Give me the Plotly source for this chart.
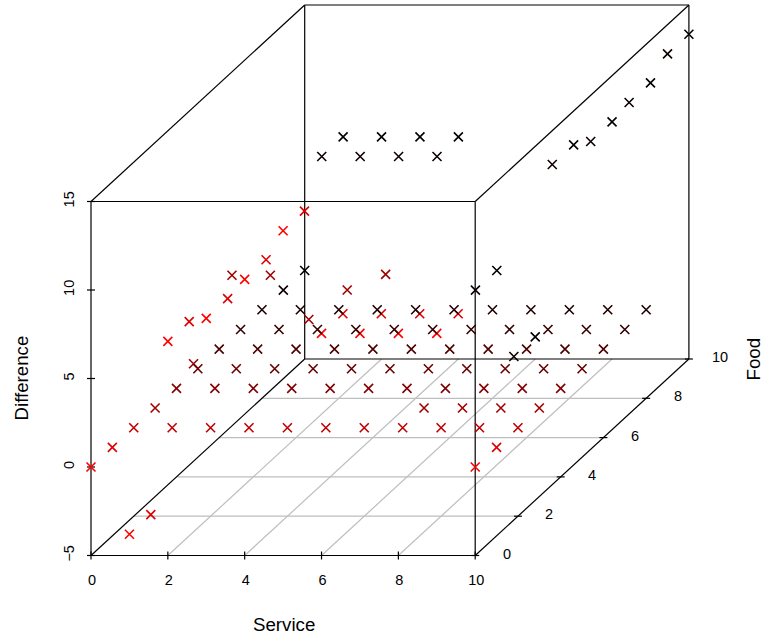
import plotly.graph_objects as go

service_values = [0, 1, 2, 3, 4, 5, 6, 7, 8, 9, 10]
food_values = [0, 1, 2, 3, 4, 5, 6, 7, 8, 9, 10]
diff_food_0 = [0, -3.8, 7.1, 8.4, 10.6, 13.35, 7.55, 7.55, 7.55, 7.55, 0]
diff_food_1 = [0, -3.8, 7.1, 8.4, 10.6, 13.35, 7.55, 7.55, 7.55, 7.55, 0]
diff_food_2 = [0, 0, 0, 0, 0, 0, 0, 0, 0, 0, 0]
diff_food_3 = [0, 2.5, 7.5, 7.5, 5, 6.67, 7.55, 0, 0, 0, 0]
diff_food_4 = [0, 0, 0, 0, 0, 0, 0, 0, 0, 0, 0]
diff_food_5 = [0, 0, 0, 0, 0, 0, 0, 0, 0, 0, 0]
diff_food_6 = [0, 0, 0, 0, 0, 0, 0, 0, 0, 0, 0]
diff_food_7 = [0, 0, 0, 0, 0, 0, 0, 0, 0, 0, 0]
diff_food_8 = [0, 0, 0, 0, 0, 0, 0, 0, 0, 0, 0]
diff_food_9 = [0, 7.55, 7.55, 7.55, 7.55, 0, -3.75, 7.1, 8.4, 10.6, 13.35]
diff_food_10 = [0, 7.55, 7.55, 7.55, 7.55, 0, -3.75, 7.1, 8.4, 10.6, 13.35]
diff_rows = [diff_food_0, diff_food_1, diff_food_2, diff_food_3, diff_food_4, diff_food_5,
             diff_food_6, diff_food_7, diff_food_8, diff_food_9, diff_food_10]
service_ticks = [0, 2, 4, 6, 8, 10]
food_ticks = [0, 2, 4, 6, 8, 10]
difference_ticks = [-5, 0, 5, 10, 15]

W, H = 763, 637
PX, PY = 38.42, 17.7          # pixels per service unit / per difference unit
X0, Y0 = 91.0, 555.5          # pixel position of service 0, difference -5
KX, KY = 21.37 / PX, 19.65 / PY  # oblique shift per food unit
FONT = "Liberation Sans, Arial, Helvetica, sans-serif"


def proj(s, f, d):
    return s + KX * f, d + KY * f


def segments(items):
    xs, ys = [], []
    for a, b in items:
        xa, ya = proj(*a)
        xb, yb = proj(*b)
        xs += [xa, xb, None]
        ys += [ya, yb, None]
    return xs, ys


fig = go.Figure()

# floor grid
grid = [((s, 0, -5), (s, 10, -5)) for s in service_ticks[1:-1]]
grid += [((0, f, -5), (10, f, -5)) for f in food_ticks[1:-1]]
gx, gy = segments(grid)
fig.add_trace(go.Scatter(x=gx, y=gy, mode="lines", line=dict(color="#bebebe", width=1.2),
                         hoverinfo="skip", showlegend=False))

# box
S0, S1, F0, F1, D0, D1 = 0, 10, 0, 10, -5, 15
box = [
    ((S0, F0, D0), (S1, F0, D0)), ((S0, F0, D1), (S1, F0, D1)),
    ((S0, F1, D0), (S1, F1, D0)), ((S0, F1, D1), (S1, F1, D1)),
    ((S0, F0, D0), (S0, F0, D1)), ((S1, F0, D0), (S1, F0, D1)),
    ((S0, F1, D0), (S0, F1, D1)), ((S1, F1, D0), (S1, F1, D1)),
    ((S0, F0, D0), (S0, F1, D0)), ((S1, F0, D0), (S1, F1, D0)),
    ((S0, F0, D1), (S0, F1, D1)), ((S1, F0, D1), (S1, F1, D1)),
]
bx, by = segments(box)
fig.add_trace(go.Scatter(x=bx, y=by, mode="lines", line=dict(color="black", width=1.2),
                         hoverinfo="skip", showlegend=False))

# ticks crossing each axis
tx, ty = [], []
hx, hy = 4 / PX, 4 / PY
for s in service_ticks:
    x, y = proj(s, 0, -5)
    tx += [x, x, None]
    ty += [y - hy, y + hy, None]
for d in difference_ticks:
    x, y = proj(0, 0, d)
    tx += [x - hx, x + hx, None]
    ty += [y, y, None]
for f in food_ticks:
    x, y = proj(10, f, -5)
    tx += [x - hx, x + hx, None]
    ty += [y, y, None]
fig.add_trace(go.Scatter(x=tx, y=ty, mode="lines", line=dict(color="black", width=1.2),
                         hoverinfo="skip", showlegend=False))

# points
px, py, colors = [], [], []
for f, row in zip(food_values, diff_rows):
    for s, d in zip(service_values, row):
        x, y = proj(s, f, d)
        px.append(x)
        py.append(y)
        colors.append(f"rgb({round(255 * (1 - f / 10) ** 1.3)},0,0)")
fig.add_trace(go.Scatter(
    x=px, y=py, mode="markers",
    marker=dict(symbol="x-thin", size=9, color=colors, line=dict(color=colors, width=1.6)),
    showlegend=False, hoverinfo="skip"))

# food tick labels
for f in food_ticks:
    x, y = proj(10, f, -5)
    fig.add_annotation(x=x, y=y, xref="x", yref="y", text=str(f), showarrow=False,
                       xshift=31.5, yshift=2, font=dict(family=FONT, size=14.5, color="black"))

# axis titles
for text, ax, ay, angle in [("Service", 283.5, 624.5, 0), ("Difference", 20.5, 378, -90), ("Food", 752.5, 359, -90)]:
    fig.add_annotation(x=ax / W, y=1 - ay / H, xref="paper", yref="paper", text=text, showarrow=False,
                       xanchor="center", yanchor="middle",
                       textangle=angle, font=dict(family=FONT, size=18.7, color="black"))

fig.update_layout(
    width=W, height=H, margin=dict(l=0, r=0, t=0, b=0, pad=0),
    paper_bgcolor="white", plot_bgcolor="white", showlegend=False,
    font=dict(family=FONT, size=14.5, color="black"),
    xaxis=dict(range=[-X0 / PX, (W - X0) / PX], tickmode="array", tickvals=service_ticks,
               ticks="", showgrid=False, zeroline=False, showline=False, automargin=False,
               anchor="free", position=(H - Y0) / H, side="bottom", ticklabelstandoff=14,
               ticklabelshift=1,
               tickfont=dict(family=FONT, size=14.5, color="black")),
    yaxis=dict(range=[-5 - (H - Y0) / PY, -5 + Y0 / PY], tickmode="array", tickvals=difference_ticks,
               ticks="", showgrid=False, zeroline=False, showline=False, tickangle=-90, automargin=False,
               anchor="free", position=X0 / W, side="left", ticklabelstandoff=14,
               tickfont=dict(family=FONT, size=14.5, color="black")),
)
fig.write_html("out.html", post_script="document.body.style.margin='0';",
               config={"displayModeBar": False})
